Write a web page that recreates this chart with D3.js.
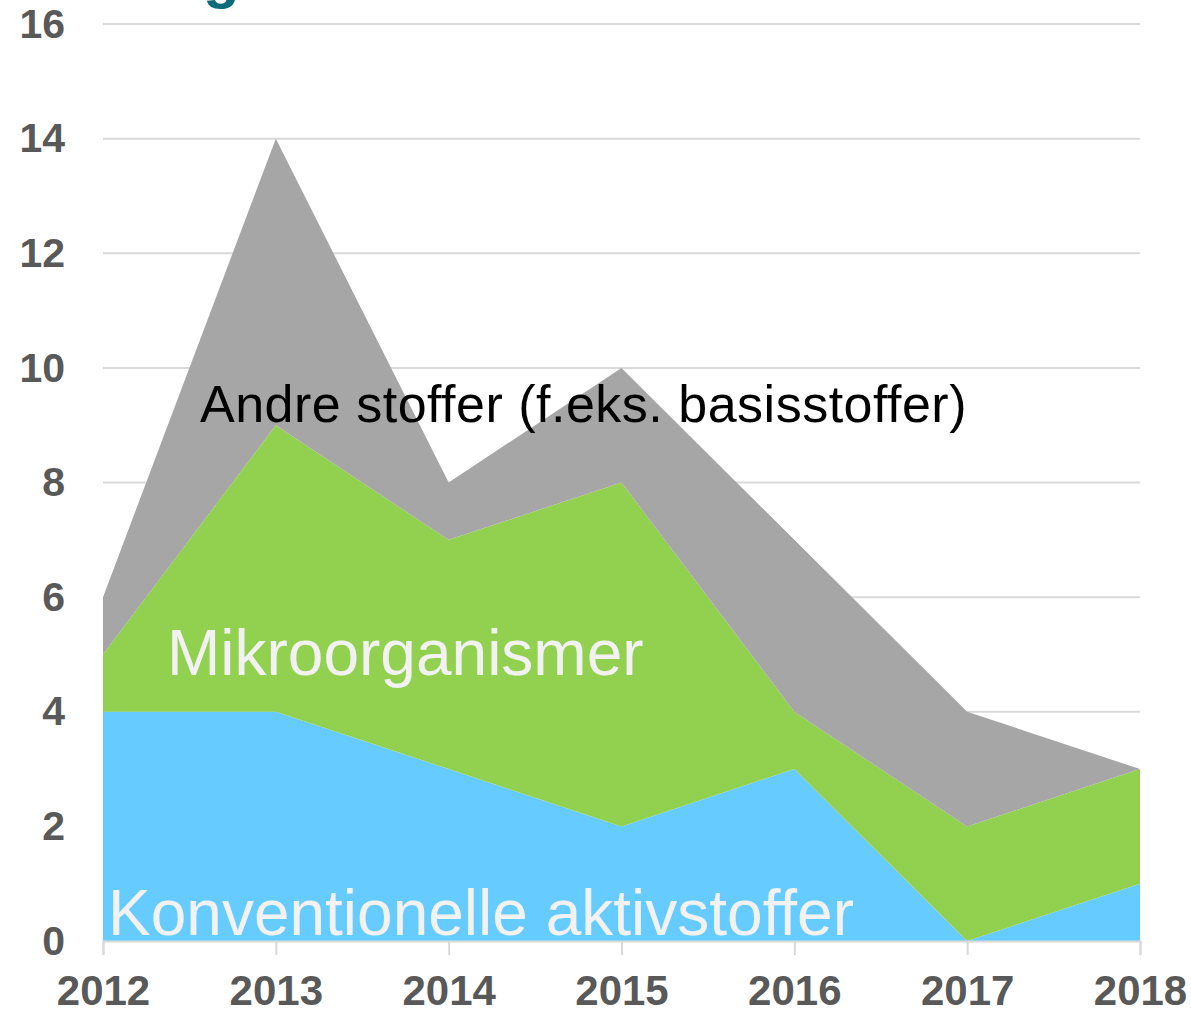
<!DOCTYPE html>
<html>
<head>
<meta charset="utf-8">
<script src="https://cdn.jsdelivr.net/npm/d3@7"></script>
<style>
  body { margin: 0; background: #fff; }
  svg { display: block; font-family: Arial, "Liberation Sans", sans-serif; }
</style>
</head>
<body>
<div id="chart"></div>
<script>
// data
var years = [2012, 2013, 2014, 2015, 2016, 2017, 2018];
var konventionelle = [4, 4, 3, 2, 3, 0, 1];
var mikro = [1, 5, 4, 6, 1, 2, 2];
var andre = [1, 5, 1, 2, 3, 2, 0];
var yTicks = [0, 2, 4, 6, 8, 10, 12, 14, 16];

var seriesNames = ["konv", "mikro", "andre"];
var colors = {konv: "#66ccff", mikro: "#92d050", andre: "#a6a6a6"};

var width = 1191, height = 1024;
var margin = {top: 24, left: 103, right: 51, bottom: 83};

var svg = d3.select("#chart")
            .append("svg")
            .attr("width", width)
            .attr("height", height);

// table for the stack
var table = years.map(function(y, i) {
  return {year: y, konv: konventionelle[i], mikro: mikro[i], andre: andre[i]};
});
var stacked = d3.stack().keys(seriesNames)(table);

var xScale = d3.scaleLinear()
               .domain([2012, 2018])
               .range([margin.left, width - margin.right]);

var yScale = d3.scaleLinear()
               .domain([0, 16])
               .range([height - margin.bottom, margin.top]);

// cut-off title at the top (only the descender shows in the reference)
svg.append("text")
   .attr("x", 203)
   .attr("y", -3)
   .style("font-size", "60px")
   .style("font-weight", "bold")
   .style("fill", "#0e6b7a")
   .text("g");

// grid lines
svg.selectAll(".grid")
   .data(yTicks)
   .enter()
   .append("line")
   .attr("class", "grid")
   .attr("x1", xScale(2012))
   .attr("x2", xScale(2018))
   .attr("y1", function(d) { return yScale(d); })
   .attr("y2", function(d) { return yScale(d); })
   .style("stroke", "#d9d9d9")
   .style("stroke-width", 2);

// stacked areas
var area = d3.area()
             .x(function(d) { return xScale(d.data.year); })
             .y0(function(d) { return yScale(d[0]); })
             .y1(function(d) { return yScale(d[1]); });

svg.selectAll(".layer")
   .data(stacked)
   .enter()
   .append("path")
   .attr("class", "layer")
   .attr("d", area)
   .style("fill", function(d) { return colors[d.key]; });

// x axis
var xAxis = svg.append("g")
               .attr("transform", "translate(0," + yScale(0) + ")")
               .call(d3.axisBottom(xScale)
                       .tickValues(years)
                       .tickFormat(d3.format("d"))
                       .tickSize(14)
                       .tickPadding(20));
xAxis.select(".domain").style("stroke", "#d9d9d9").style("stroke-width", 2);
xAxis.selectAll(".tick line").style("stroke", "#d9d9d9").style("stroke-width", 2);
xAxis.selectAll("text")
     .style("font-family", "Arial, 'Liberation Sans', sans-serif")
     .style("font-size", "42px")
     .style("font-weight", "bold")
     .style("fill", "#595959");

// y axis
var yAxis = svg.append("g")
               .attr("transform", "translate(" + margin.left + ",0)")
               .call(d3.axisLeft(yScale)
                       .tickValues(yTicks)
                       .tickSize(0)
                       .tickPadding(38));
yAxis.select(".domain").remove();
yAxis.selectAll("text")
     .style("font-family", "Arial, 'Liberation Sans', sans-serif")
     .style("font-size", "41px")
     .style("font-weight", "bold")
     .style("fill", "#595959");

// series labels inside the areas
svg.append("text")
   .attr("x", 200)
   .attr("y", 422)
   .style("font-size", "52px")
   .style("letter-spacing", "0.5px")
   .style("fill", "#000")
   .text("Andre stoffer (f.eks. basisstoffer)");

svg.append("text")
   .attr("x", 167)
   .attr("y", 675)
   .style("font-size", "64px")
   .style("fill", "#f2f2f2")
   .text("Mikroorganismer");

svg.append("text")
   .attr("x", 108)
   .attr("y", 935)
   .style("font-size", "64px")
   .style("fill", "#f2f2f2")
   .text("Konventionelle aktivstoffer");
</script>
</body>
</html>
